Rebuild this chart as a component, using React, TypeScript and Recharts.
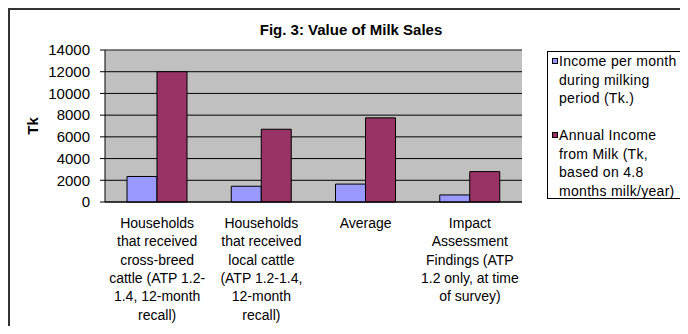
import React from "react";
import { BarChart, Bar, XAxis, YAxis, CartesianGrid, ReferenceLine } from "recharts";

// Category labels (line breaks mark where each label wraps)
const categories = [
  "Households\nthat received\ncross-breed\ncattle (ATP 1.2-\n1.4, 12-month\nrecall)",
  "Households\nthat received\nlocal cattle\n(ATP 1.2-1.4,\n12-month\nrecall)",
  "Average",
  "Impact\nAssessment\nFindings (ATP\n1.2 only, at time\nof survey)",
];

// Series values (Tk)
const monthlyIncome = [2350, 1450, 1650, 650];
const annualIncome = [12000, 6700, 7750, 2800];

const seriesNames = [
  "Income per month\nduring milking\nperiod (Tk.)",
  "Annual Income\nfrom Milk (Tk,\nbased on 4.8\nmonths milk/year)",
];
const seriesColors = ["#9999FF", "#993366"];

const yTicks = [0, 2000, 4000, 6000, 8000, 10000, 12000, 14000];
// boundaries between categories, where the x-axis tick marks sit
const edgeTicks = [0, 1, 2, 3, 4];

const title = "Fig. 3: Value of Milk Sales";
const yLabel = "Tk";

const data = categories.map((category, i) => ({
  category,
  monthly: monthlyIncome[i],
  annual: annualIncome[i],
}));

const FONT = '"Liberation Sans", Arial, Helvetica, sans-serif';

const CategoryTick = (props: any) => {
  const { x, y, payload } = props;
  const lines = String(payload.value).split("\n");
  return (
    <text x={x} y={y} textAnchor="middle" fontSize={14} fill="#000" fontFamily={FONT}>
      {lines.map((line, i) => (
        <tspan key={i} x={x} dy={i === 0 ? 26 : 18.3}>
          {line}
        </tspan>
      ))}
    </text>
  );
};

const YTitle = (props: any) => {
  const vb = props.viewBox || { x: 0, y: 0, width: 0, height: 0 };
  const cx = vb.x + 22;
  const cy = vb.y + vb.height / 2;
  return (
    <text
      x={cx}
      y={cy}
      transform={`rotate(-90 ${cx} ${cy})`}
      textAnchor="middle"
      dominantBaseline="central"
      fontSize={15}
      fontWeight="bold"
      fontFamily={FONT}
      fill="#000"
    >
      {yLabel}
    </text>
  );
};

export default function App() {
  return (
    <div
      style={{
        position: "relative",
        width: 670,
        height: 316,
        borderTop: "2px solid #333",
        borderLeft: "2px solid #333",
        overflow: "hidden",
        fontFamily: FONT,
        background: "#fff",
      }}
    >
      <div
        style={{
          position: "absolute",
          left: 0,
          top: 11,
          width: 682,
          textAlign: "center",
          fontSize: 15,
          lineHeight: "18px",
          fontWeight: "bold",
          color: "#000",
        }}
      >
        {title}
      </div>

      <BarChart
        width={670}
        height={316}
        data={data}
        margin={{ top: 40, right: 158, left: 0, bottom: 14 }}
        barCategoryGap={22}
        barGap={0}
      >
        <CartesianGrid vertical={false} stroke="#000" fill="#C0C0C0" fillOpacity={1} />
        <XAxis
          xAxisId="edges"
          type="number"
          domain={[0, 4]}
          ticks={edgeTicks}
          axisLine={false}
          tickLine={{ stroke: "#000" }}
          tickSize={5}
          tickFormatter={() => ""}
          height={0}
        />
        <XAxis
          dataKey="category"
          interval={0}
          tickLine={false}
          axisLine={{ stroke: "#000" }}
          tickSize={0}
          tickMargin={0}
          tick={<CategoryTick />}
          height={110}
        />
        <YAxis
          domain={[0, 14000]}
          ticks={yTicks}
          interval={0}
          width={95}
          tickSize={5}
          tickMargin={10}
          axisLine={{ stroke: "#000" }}
          tickLine={{ stroke: "#000" }}
          tick={{ fontSize: 15, fill: "#000", fontFamily: FONT }}
          label={<YTitle />}
        />
        <ReferenceLine y={14000} stroke="#808080" />
        <ReferenceLine x={4} xAxisId="edges" stroke="#808080" />
        <Bar dataKey="monthly" fill={seriesColors[0]} stroke="#000" strokeWidth={1} isAnimationActive={false} />
        <Bar dataKey="annual" fill={seriesColors[1]} stroke="#000" strokeWidth={1} isAnimationActive={false} />
      </BarChart>

      <div
        style={{
          position: "absolute",
          left: 537,
          top: 41,
          width: 138,
          height: 148,
          border: "1px solid #000",
          boxSizing: "border-box",
          background: "#fff",
        }}
      >
        {seriesNames.map((name, i) => (
          <div
            key={i}
            style={{
              position: "relative",
              paddingLeft: 11,
              marginBottom: i === 0 ? 18.5 : 0,
              fontSize: 14,
              lineHeight: "18.5px",
              letterSpacing: 0.3,
              whiteSpace: "pre",
              color: "#000",
            }}
          >
            <span
              style={{
                position: "absolute",
                left: 4,
                top: 6,
                width: 6,
                height: 6,
                background: seriesColors[i],
                border: "1px solid #000",
                boxSizing: "border-box",
              }}
            />
            {name}
          </div>
        ))}
      </div>
    </div>
  );
}
